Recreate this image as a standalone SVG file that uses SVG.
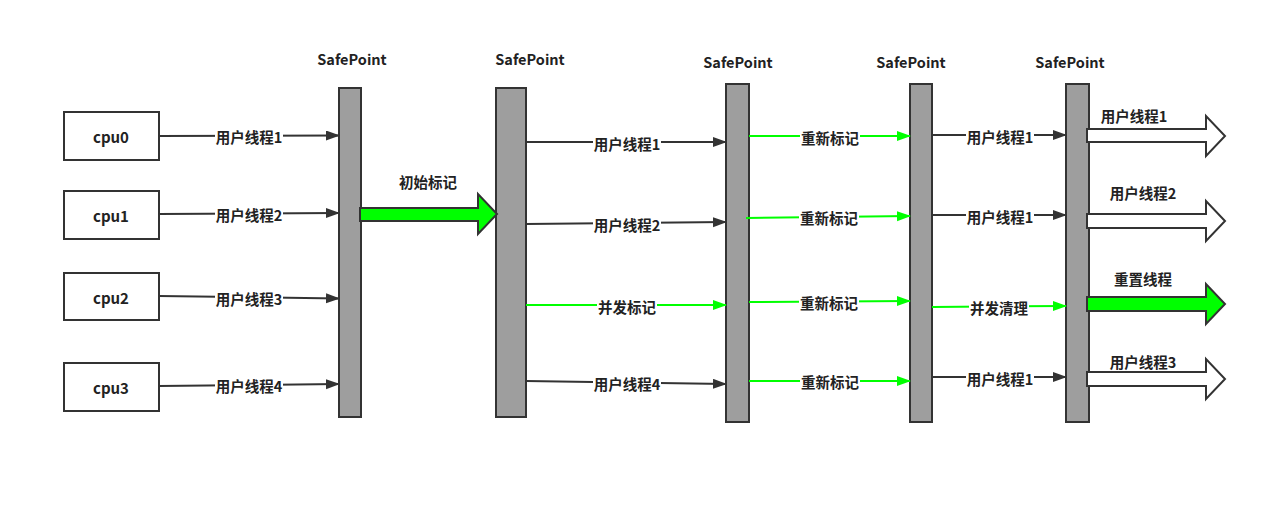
<svg xmlns="http://www.w3.org/2000/svg" width="1287" height="508" viewBox="0 0 1287 508">
<style>
text{font-family:"Microsoft YaHei","Noto Sans CJK SC","Liberation Sans",sans-serif;font-weight:bold;fill:#222;font-size:14.5px;text-anchor:middle;dominant-baseline:central}
.sp{font-size:14.5px}
.cn{font-size:15px}
.cpu{fill:#fff;stroke:#333;stroke-width:2}
.bar{fill:#9e9e9e;stroke:#333;stroke-width:2}
.dk{stroke:#333;stroke-width:2;fill:none}
.gr{stroke:#00ff00;stroke-width:2;fill:none}
.lbg{fill:#fff}
.blk{stroke:#333;stroke-width:2}
</style>
<defs>
<marker id="ad" markerUnits="userSpaceOnUse" markerWidth="16" markerHeight="12" refX="13" refY="5" orient="auto"><path d="M0,0 L14,5 L0,10 z" fill="#333"/></marker>
<marker id="ag" markerUnits="userSpaceOnUse" markerWidth="16" markerHeight="12" refX="13" refY="5" orient="auto"><path d="M0,0 L14,5 L0,10 z" fill="#00ff00"/></marker>
</defs>
<rect width="1287" height="508" fill="#fff"/>
<g id="cpu0"><rect class="cpu" x="64" y="112" width="95" height="48"/><text class="cn" x="111" y="136">cpu0</text></g>
<g id="cpu1"><rect class="cpu" x="64" y="191" width="95" height="48"/><text class="cn" x="111" y="215">cpu1</text></g>
<g id="cpu2"><rect class="cpu" x="64" y="273" width="95" height="47"/><text class="cn" x="111" y="297">cpu2</text></g>
<g id="cpu3"><rect class="cpu" x="64" y="363" width="95" height="48"/><text class="cn" x="111" y="387">cpu3</text></g>
<g id="sp1"><rect class="bar" x="339" y="88" width="22" height="329"/><text class="sp" x="352" y="58">SafePoint</text></g>
<g id="sp2"><rect class="bar" x="496" y="88" width="30" height="329"/><text class="sp" x="530" y="58">SafePoint</text></g>
<g id="sp3"><rect class="bar" x="726" y="84" width="23" height="338"/><text class="sp" x="738" y="61">SafePoint</text></g>
<g id="sp4"><rect class="bar" x="910" y="84" width="22" height="338"/><text class="sp" x="911" y="61">SafePoint</text></g>
<g id="sp5"><rect class="bar" x="1066" y="84" width="23" height="338"/><text class="sp" x="1070" y="61">SafePoint</text></g>
<g id="connectors">
<path class="dk" d="M159,136 L339,135.5" marker-end="url(#ad)"/>
<path class="dk" d="M159,214 L339,213" marker-end="url(#ad)"/>
<path class="dk" d="M159,296 L339,298.5" marker-end="url(#ad)"/>
<path class="dk" d="M159,386 L339,384" marker-end="url(#ad)"/>
<path class="dk" d="M526,142 L726,142" marker-end="url(#ad)"/>
<path class="dk" d="M526,224 L726,222" marker-end="url(#ad)"/>
<path class="gr" d="M526,305 L726,305" marker-end="url(#ag)"/>
<path class="dk" d="M526,381 L726,384" marker-end="url(#ad)"/>
<path class="gr" d="M749,136 L910,136" marker-end="url(#ag)"/>
<path class="gr" d="M746,218 L910,216" marker-end="url(#ag)"/>
<path class="gr" d="M749,302 L910,301" marker-end="url(#ag)"/>
<path class="gr" d="M749,381 L910,381" marker-end="url(#ag)"/>
<path class="dk" d="M932,135 L1066,135" marker-end="url(#ad)"/>
<path class="dk" d="M932,215 L1066,215" marker-end="url(#ad)"/>
<path class="gr" d="M932,307 L1066,306" marker-end="url(#ag)"/>
<path class="dk" d="M932,377 L1066,377" marker-end="url(#ad)"/>
<polygon class="blk" fill="#00ff00" points="360,208 478,208 478,194 497,214 478,234 478,221 360,221"/>
<polygon class="blk" fill="#fff" points="1087,129 1206,129 1206,116 1225,136 1206,156 1206,142 1087,142"/>
<polygon class="blk" fill="#fff" points="1087,214 1206,214 1206,201 1225,221 1206,241 1206,228 1087,228"/>
<polygon class="blk" fill="#00ff00" points="1087,297 1206,297 1206,284 1225,304 1206,324 1206,311 1087,311"/>
<polygon class="blk" fill="#fff" points="1087,372 1206,372 1206,359 1225,379 1206,399 1206,386 1087,386"/>
<rect class="lbg" x="215" y="128" width="68" height="16"/><text x="249" y="136">用户线程1</text>
<rect class="lbg" x="215" y="206" width="68" height="16"/><text x="249" y="214">用户线程2</text>
<rect class="lbg" x="215" y="290" width="68" height="16"/><text x="249" y="298">用户线程3</text>
<rect class="lbg" x="215" y="377" width="68" height="16"/><text x="249" y="385">用户线程4</text>
<text x="428" y="181">初始标记</text>
<rect class="lbg" x="593" y="135" width="68" height="16"/><text x="627" y="143">用户线程1</text>
<rect class="lbg" x="593" y="216" width="68" height="16"/><text x="627" y="224">用户线程2</text>
<rect class="lbg" x="597" y="298" width="60" height="16"/><text x="627" y="306">并发标记</text>
<rect class="lbg" x="593" y="375" width="68" height="16"/><text x="627" y="383">用户线程4</text>
<rect class="lbg" x="800" y="129" width="60" height="16"/><text x="830" y="137">重新标记</text>
<rect class="lbg" x="799" y="209" width="60" height="16"/><text x="829" y="217">重新标记</text>
<rect class="lbg" x="799" y="294" width="60" height="16"/><text x="829" y="302">重新标记</text>
<rect class="lbg" x="800" y="373" width="60" height="16"/><text x="830" y="381">重新标记</text>
<rect class="lbg" x="966" y="128" width="68" height="16"/><text x="1000" y="136">用户线程1</text>
<rect class="lbg" x="966" y="208" width="68" height="16"/><text x="1000" y="216">用户线程1</text>
<rect class="lbg" x="969" y="299" width="60" height="16"/><text x="999" y="307">并发清理</text>
<rect class="lbg" x="966" y="370" width="68" height="16"/><text x="1000" y="378">用户线程1</text>
<text x="1134" y="115">用户线程1</text>
<text x="1143" y="192">用户线程2</text>
<text x="1143" y="278">重置线程</text>
<text x="1143" y="361">用户线程3</text>
</g>
</svg>
